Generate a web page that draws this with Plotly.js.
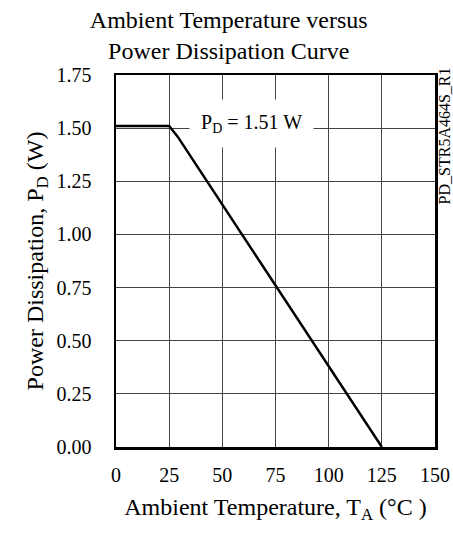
<!DOCTYPE html>
<html>
<head>
<meta charset="utf-8">
<script src="https://cdn.plot.ly/plotly-3.0.1.min.js"></script>
<style>html,body{margin:0;padding:0;background:#fff;}#chart{width:453px;height:533px;}</style>
</head>
<body>
<div id="chart"></div>
<script>
const temperature = [0, 25, 29, 125];
const power = [1.51, 1.51, 1.46, 0];
const xTickVals = [0, 25, 50, 75, 100, 125, 150];
const yTickVals = [0, 0.25, 0.5, 0.75, 1.0, 1.25, 1.5, 1.75];
const yTickText = ["0.00", "0.25", "0.50", "0.75", "1.00", "1.25", "1.50", "1.75"];
const ratingLabel = "P<sub>D</sub> = 1.51 W";
const ratingX = 63.5;
const ratingY = 1.51;

const FONT = '"Liberation Serif", "Times New Roman", Times, serif';

const trace = {
  x: temperature, y: power, type: 'scatter', mode: 'lines',
  line: {color: '#000', width: 2.5}, hoverinfo: 'skip', showlegend: false
};

const layout = {
  width: 453, height: 533,
  margin: {l: 116, r: 18, t: 75, b: 86},
  paper_bgcolor: '#fff', plot_bgcolor: '#fff',
  font: {family: FONT, color: '#000', size: 20},
  title: {
    text: 'Ambient Temperature versus<br>Power Dissipation Curve',
    font: {family: FONT, size: 24, color: '#000'},
    x: 0.505, xref: 'container', xanchor: 'center',
    y: 0.948, yref: 'container', yanchor: 'middle'
  },
  xaxis: {
    range: [0, 150], tickvals: xTickVals, ticktext: xTickVals.map(String),
    showgrid: true, gridcolor: '#444', gridwidth: 1, zeroline: false,
    showline: true, linecolor: '#000', linewidth: 2.5, mirror: true,
    ticks: '', ticklabelstandoff: 8,
    tickfont: {family: FONT, size: 20, color: '#000'},
    title: {text: 'Ambient Temperature, T<sub>A</sub> (°C )', font: {family: FONT, size: 24, color: '#000'}, standoff: 14}
  },
  yaxis: {
    range: [0, 1.75], tickvals: yTickVals, ticktext: yTickText,
    showgrid: true, gridcolor: '#444', gridwidth: 1, zeroline: false,
    showline: true, linecolor: '#000', linewidth: 2.5, mirror: true,
    ticks: '', ticklabelstandoff: 18,
    tickfont: {family: FONT, size: 20, color: '#000'},
    title: {text: 'Power Dissipation, P<sub>D</sub> (W)', font: {family: FONT, size: 24, color: '#000'}, standoff: 6}
  },
  annotations: [
    {
      x: ratingX, y: ratingY, xref: 'x', yref: 'y', text: ratingLabel, showarrow: false,
      font: {family: FONT, size: 20, color: '#000'}, bgcolor: '#fff', borderpad: 11, yshift: 3
    },
    {
      x: 1, xref: 'paper', xanchor: 'center', xshift: 9, y: 0.835, yref: 'paper', yanchor: 'middle',
      text: 'PD_STR5A464S_R1', textangle: -90, showarrow: false,
      font: {family: FONT, size: 16, color: '#000'}
    }
  ]
};

Plotly.newPlot('chart', [trace], layout, {displayModeBar: false, staticPlot: true});
</script>
</body>
</html>
